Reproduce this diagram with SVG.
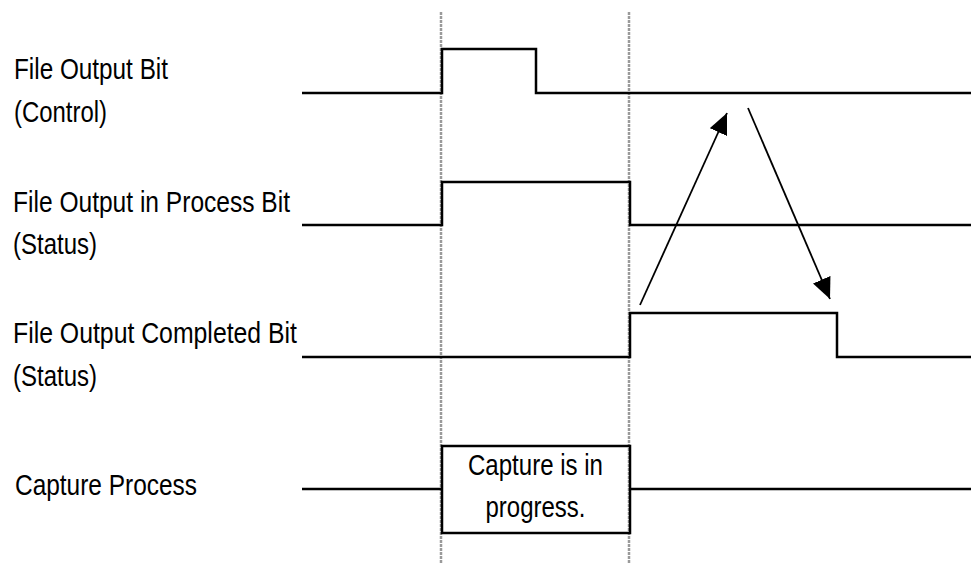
<svg xmlns="http://www.w3.org/2000/svg" width="971" height="564" viewBox="0 0 971 564">
<style>
  .lbl { font-family: "Liberation Sans", Arial, sans-serif; font-size: 29px; fill: #000; }
  .sig { fill: none; stroke: #000; stroke-width: 2.5; stroke-linejoin: miter; stroke-linecap: butt; }
  .guide { stroke: #9a9a9a; stroke-width: 2.5; stroke-dasharray: 3 1; fill: none; }
  .arr { stroke: #000; stroke-width: 1.8; fill: none; }
</style>
<defs>
  <marker id="ah" markerUnits="userSpaceOnUse" markerWidth="22" markerHeight="20" refX="21" refY="9.5" orient="auto">
    <path d="M0,0 L21,9.5 L0,19 z" fill="#000"/>
  </marker>
</defs>
<rect width="971" height="564" fill="#fff"/>
<g id="guides">
  <line class="guide" x1="441" y1="12" x2="441" y2="564"/>
  <line class="guide" x1="629" y1="12" x2="629" y2="564"/>
</g>
<g id="sig-control">
  <text class="lbl" x="14" y="79" textLength="154" lengthAdjust="spacingAndGlyphs">File Output Bit</text>
  <text class="lbl" x="14" y="122" textLength="93" lengthAdjust="spacingAndGlyphs">(Control)</text>
  <path class="sig" d="M302,93 H442 V49 H536 V93 H971"/>
</g>
<g id="sig-inprocess">
  <text class="lbl" x="13" y="212" textLength="277" lengthAdjust="spacingAndGlyphs">File Output in Process Bit</text>
  <text class="lbl" x="13" y="254" textLength="84" lengthAdjust="spacingAndGlyphs">(Status)</text>
  <path class="sig" d="M302,225 H442 V182 H630 V225 H971"/>
</g>
<g id="sig-completed">
  <text class="lbl" x="13" y="343" textLength="284" lengthAdjust="spacingAndGlyphs">File Output Completed Bit</text>
  <text class="lbl" x="13" y="386" textLength="84" lengthAdjust="spacingAndGlyphs">(Status)</text>
  <path class="sig" d="M302,357 H630 V313 H837 V357 H971"/>
</g>
<g id="sig-capture">
  <text class="lbl" x="15" y="495" textLength="182" lengthAdjust="spacingAndGlyphs">Capture Process</text>
  <path class="sig" d="M302,489 H442 M630,489 H971"/>
  <rect class="sig" x="442" y="446" width="188" height="87"/>
  <text class="lbl" x="535.5" y="475" text-anchor="middle" textLength="135" lengthAdjust="spacingAndGlyphs">Capture is in</text>
  <text class="lbl" x="535.5" y="517" text-anchor="middle" textLength="100" lengthAdjust="spacingAndGlyphs">progress.</text>
</g>
<g id="connectors">
  <line class="arr" x1="640" y1="305" x2="727" y2="113" marker-end="url(#ah)"/>
  <line class="arr" x1="748" y1="108" x2="830" y2="299" marker-end="url(#ah)"/>
</g>
</svg>
